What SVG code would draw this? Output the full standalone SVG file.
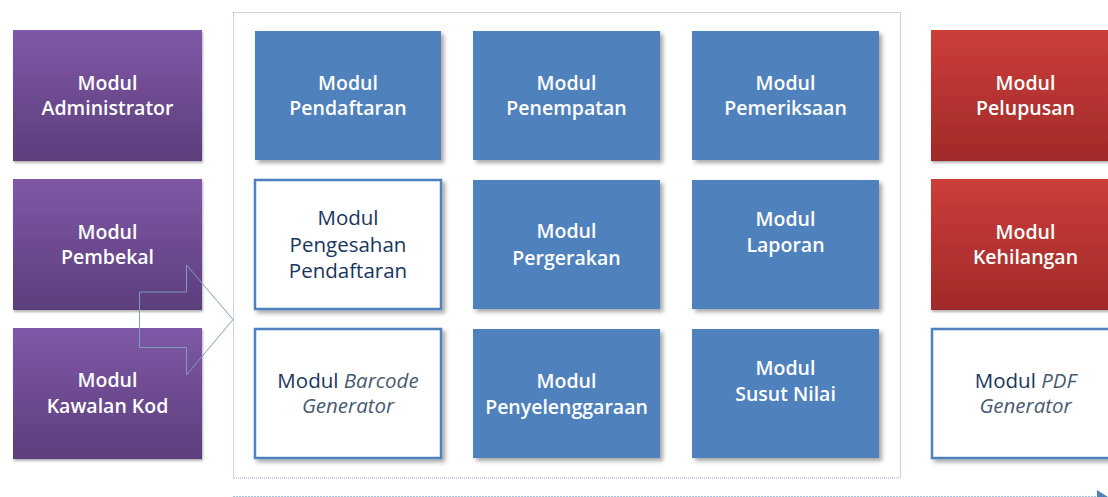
<svg xmlns="http://www.w3.org/2000/svg" width="1108" height="497" viewBox="0 0 1108 497">
<defs>
<linearGradient id="gPurple" x1="0" y1="0" x2="0" y2="1">
<stop offset="0" stop-color="#7F58A6"/>
<stop offset="1" stop-color="#5C3E7C"/>
</linearGradient>
<linearGradient id="gRed" x1="0" y1="0" x2="0" y2="1">
<stop offset="0" stop-color="#CC3D39"/>
<stop offset="1" stop-color="#A02A29"/>
</linearGradient>
<filter id="sh" x="-10%" y="-10%" width="125%" height="125%">
<feDropShadow dx="3" dy="3" stdDeviation="2" flood-color="#000" flood-opacity="0.35"/>
</filter>
<filter id="shl" x="-10%" y="-10%" width="125%" height="125%">
<feDropShadow dx="1" dy="2" stdDeviation="1.2" flood-color="#000" flood-opacity="0.3"/>
</filter>
</defs>
<style>
text{font-family:"Open Sans","Liberation Sans",sans-serif;font-size:20.5px;text-anchor:middle}
.w{fill:#FFFFFF;font-weight:600;font-size:19.5px}
.d{fill:#17365D}
.i{fill:#4A5A70;font-style:italic}
.purple{fill:url(#gPurple);filter:url(#shl)}
.red{fill:url(#gRed);filter:url(#shl)}
.blue{fill:#4F81BD;filter:url(#sh)}
.white{fill:#FFFFFF;stroke:#4F81BD;stroke-width:2.5;filter:url(#sh)}
.frame{fill:none;stroke:#95A9C8;stroke-width:1;stroke-dasharray:1 1}
.conn{fill:none;stroke:#7F9BBF;stroke-width:1}
</style>
<rect width="1108" height="497" fill="#FFFFFF"/>
<rect class="frame" x="233.5" y="12.5" width="667" height="465.5"/>

<g id="administrator"><rect class="purple" x="13" y="30" width="189" height="131"/><text class="w" x="107.5" y="89.5">Modul</text><text class="w" x="107.5" y="115">Administrator</text></g>
<g id="pembekal"><rect class="purple" x="13" y="179" width="189" height="131"/><text class="w" x="107.5" y="238.5">Modul</text><text class="w" x="107.5" y="264">Pembekal</text></g>
<g id="kawalan-kod"><rect class="purple" x="13" y="328" width="189" height="131"/><text class="w" x="107.5" y="387">Modul</text><text class="w" x="107.5" y="412.5">Kawalan Kod</text></g>

<g id="pendaftaran"><rect class="blue" x="255" y="31" width="186" height="129"/><text class="w" x="348" y="89.5">Modul</text><text class="w" x="348" y="115">Pendaftaran</text></g>
<g id="penempatan"><rect class="blue" x="473" y="31" width="187" height="129"/><text class="w" x="566.5" y="89.5">Modul</text><text class="w" x="566.5" y="115">Penempatan</text></g>
<g id="pemeriksaan"><rect class="blue" x="692" y="31" width="187" height="129"/><text class="w" x="785.5" y="89.5">Modul</text><text class="w" x="785.5" y="115">Pemeriksaan</text></g>

<g id="pengesahan"><rect class="white" x="255" y="180" width="186" height="129"/><text class="d" x="348" y="225">Modul</text><text class="d" x="348" y="251.5">Pengesahan</text><text class="d" x="348" y="278">Pendaftaran</text></g>
<g id="pergerakan"><rect class="blue" x="473" y="180" width="187" height="129"/><text class="w" x="566.5" y="238">Modul</text><text class="w" x="566.5" y="265">Pergerakan</text></g>
<g id="laporan"><rect class="blue" x="692" y="180" width="187" height="129"/><text class="w" x="785.5" y="225.5">Modul</text><text class="w" x="785.5" y="252">Laporan</text></g>

<g id="barcode"><rect class="white" x="255" y="329" width="186" height="129"/><text x="348" y="388"><tspan class="d">Modul </tspan><tspan class="i">Barcode</tspan></text><text class="i" x="348" y="413">Generator</text></g>
<g id="penyelenggaraan"><rect class="blue" x="473" y="329" width="187" height="129"/><text class="w" x="566.5" y="388">Modul</text><text class="w" x="566.5" y="413.5">Penyelenggaraan</text></g>
<g id="susut-nilai"><rect class="blue" x="692" y="329" width="187" height="129"/><text class="w" x="785.5" y="375">Modul</text><text class="w" x="785.5" y="401">Susut Nilai</text></g>

<g id="pelupusan"><rect class="red" x="931" y="30" width="189" height="131"/><text class="w" x="1025.5" y="89.5">Modul</text><text class="w" x="1025.5" y="115">Pelupusan</text></g>
<g id="kehilangan"><rect class="red" x="931" y="179" width="189" height="131"/><text class="w" x="1025.5" y="238.5">Modul</text><text class="w" x="1025.5" y="264">Kehilangan</text></g>
<g id="pdf"><rect class="white" x="932" y="329" width="188" height="129"/><text x="1025.5" y="388"><tspan class="d">Modul </tspan><tspan class="i">PDF</tspan></text><text class="i" x="1025.5" y="413">Generator</text></g>

<g id="connectors">
<path class="conn" d="M139.5,292 H186.5 V265 L233,319.5 L186.5,375 V347.5 H139.5 Z"/>
<line x1="233" y1="496.5" x2="1098" y2="496.5" stroke="#9DC3E6" stroke-width="1.2" stroke-dasharray="2 1"/>
<path d="M1097,490 L1108,497 L1097,504 Z" fill="#4F81BD"/>
</g>
</svg>
